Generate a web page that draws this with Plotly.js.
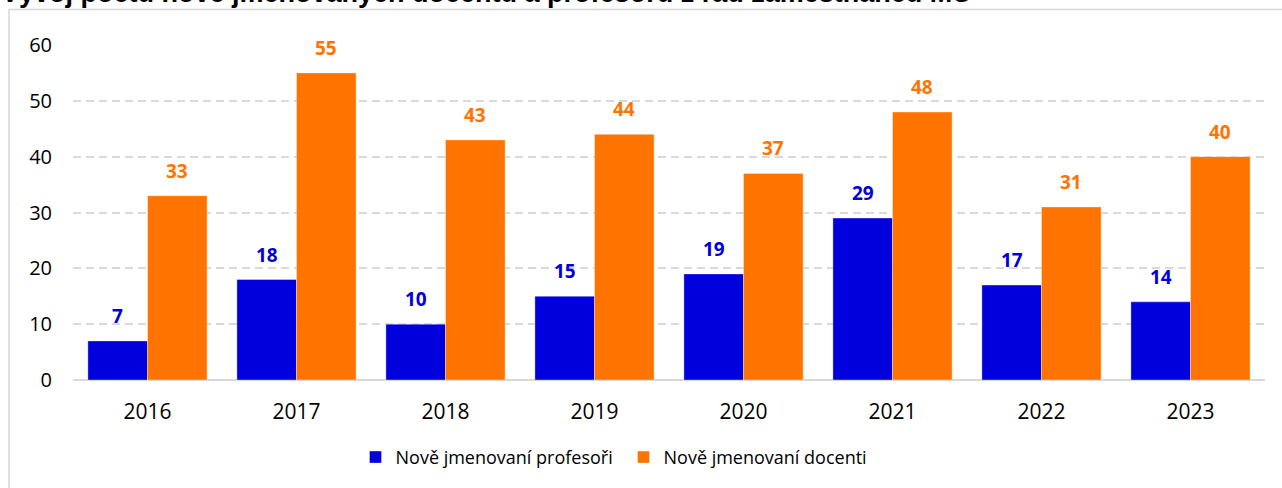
<!DOCTYPE html>
<html>
<head>
<meta charset="utf-8">
<script src="https://cdn.plot.ly/plotly-3.0.1.min.js"></script>
<style>html,body{margin:0;padding:0;background:#fff;}#chart{width:1282px;height:488px;}</style>
</head>
<body>
<div id="chart"></div>
<script>
const years = ['2016','2017','2018','2019','2020','2021','2022','2023'];
const profesori = [7, 18, 10, 15, 19, 29, 17, 14];
const docenti = [33, 55, 43, 44, 37, 48, 31, 40];
const seriesNames = ['Nově jmenovaní profesoři', 'Nově jmenovaní docenti'];
const titleText = 'Vývoj počtu nově jmenovaných docentů a profesorů z řad zaměstnanců MU';
const yTicks = [0, 10, 20, 30, 40, 50, 60];

const BLUE = '#0000DC', ORANGE = '#FF7400';
const FONT = 'Open Sans, sans-serif';

const traces = [
  {type:'bar', name:seriesNames[0], x:years, y:profesori, marker:{color:BLUE, line:{color:'rgba(255,255,255,0.6)', width:0.6}}, hoverinfo:'none'},
  {type:'bar', name:seriesNames[1], x:years, y:docenti, marker:{color:ORANGE, line:{color:'rgba(255,255,255,0.6)', width:0.6}}, hoverinfo:'none'}
];

const annotations = [];
const off = 29.8;
years.forEach((yr,i)=>{
  annotations.push({x:i, y:profesori[i], xref:'x', yref:'y', text:String(profesori[i]), showarrow:false, xshift:-off, yshift:10, yanchor:'bottom', font:{family:FONT, size:19, color:BLUE, weight:'bold'}});
  annotations.push({x:i, y:docenti[i], xref:'x', yref:'y', text:String(docenti[i]), showarrow:false, xshift:off, yshift:10, yanchor:'bottom', font:{family:FONT, size:19, color:ORANGE, weight:'bold'}});
});
// chart title (partly cut off at the top edge, as in the reference)
annotations.push({xref:'paper', yref:'paper', x:0, y:1, xanchor:'left', yanchor:'middle', xshift:-74, yshift:52, showarrow:false, text:'<b>'+titleText+'</b>', font:{family:'Liberation Sans, Arial, sans-serif', size:27, color:'#000'}});

const layout = {
  width:1282, height:488,
  margin:{l:73, r:17, t:45, b:106},
  paper_bgcolor:'#fff', plot_bgcolor:'#fff',
  font:{family:FONT, color:'#000'},
  barmode:'group', bargap:0.2, bargroupgap:0,
  xaxis:{type:'category', range:[-0.5, years.length-0.5], tickfont:{family:FONT, size:21, color:'#000'}, showgrid:false, showline:false, ticks:'', ticklabelstandoff:17, fixedrange:true},
  yaxis:{range:[0,60], tickvals:yTicks, tickfont:{family:FONT, size:20, color:'#000'}, showgrid:true, gridcolor:'#d9d9d9', gridwidth:2, griddash:'8px,5px', zeroline:true, zerolinecolor:'#d9d9d9', zerolinewidth:2, showline:false, ticks:'', ticklabelstandoff:20, fixedrange:true},
  showlegend:true,
  legend:{orientation:'h', x:0.237, xanchor:'left', y:-0.231, yanchor:'middle', font:{family:FONT, size:18, color:'#000'}, entrywidth:223, entrywidthmode:'pixels'},
  shapes:[{type:'rect', xref:'paper', yref:'paper', x0:-0.0537, x1:1.1, y0:-0.5, y1:1.106, line:{color:'#d9d9d9', width:1.5}, fillcolor:'rgba(0,0,0,0)', layer:'below'}],
  annotations:annotations
};

Plotly.newPlot('chart', traces, layout, {displayModeBar:false, staticPlot:true});
</script>
</body>
</html>
